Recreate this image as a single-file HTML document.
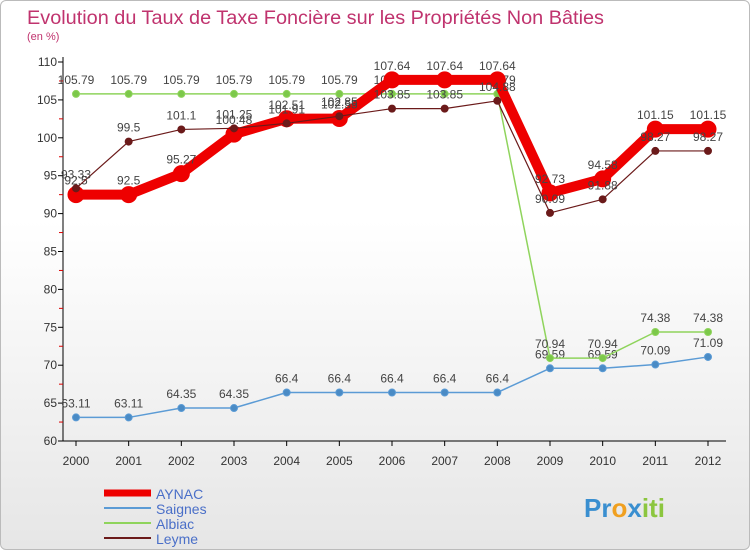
<!DOCTYPE html>
<html><head><meta charset="utf-8"><style>
body{margin:0;width:750px;height:550px;overflow:hidden;font-family:"Liberation Sans",sans-serif}
#wrap{position:absolute;left:0;top:0;width:748px;height:548px;border:1px solid #bbb;border-radius:6px;background:linear-gradient(#fff,#fff 40%,#e6e6e6)}
</style></head><body>
<div id="wrap">
<svg id="chart" width="750" height="550" font-family="Liberation Sans, sans-serif">
<text x="26" y="23" font-size="19" fill="#c0336e" textLength="577" lengthAdjust="spacingAndGlyphs">Evolution du Taux de Taxe Foncière sur les Propriétés Non Bâties</text>
<text x="26" y="39" font-size="11" fill="#c0336e">(en %)</text>
<g id="axes"></g><g id="series"></g>
<g>
<line x1="103" y1="492" x2="150" y2="492" stroke="#e00" stroke-width="7"/>
<text x="155" y="498" font-size="14" fill="#4a6fc8">AYNAC</text>
<line x1="103" y1="507" x2="150" y2="507" stroke="#5b9bd5" stroke-width="2"/>
<text x="155" y="513" font-size="14" fill="#4a6fc8">Saignes</text>
<line x1="103" y1="522" x2="150" y2="522" stroke="#8fd45c" stroke-width="2"/>
<text x="155" y="528" font-size="14" fill="#4a6fc8">Albiac</text>
<line x1="103" y1="537" x2="150" y2="537" stroke="#6b1a1a" stroke-width="2"/>
<text x="155" y="543" font-size="14" fill="#4a6fc8">Leyme</text>
</g>
<text x="583" y="516" font-size="26" font-weight="bold"><tspan fill="#3a8fd0">Pr</tspan><tspan fill="#f0a020">o</tspan><tspan fill="#3a8fd0">x</tspan><tspan fill="#8cc63f">iti</tspan></text>
</svg>
</div>
<script>
const years=[2000,2001,2002,2003,2004,2005,2006,2007,2008,2009,2010,2011,2012];
const yTicks=[60,65,70,75,80,85,90,95,100,105,110];
const aynac=[92.5,92.5,95.27,100.48,102.51,102.55,107.64,107.64,107.64,92.73,94.58,101.15,101.15];
const saignes=[63.11,63.11,64.35,64.35,66.4,66.4,66.4,66.4,66.4,69.59,69.59,70.09,71.09];
const albiac=[105.79,105.79,105.79,105.79,105.79,105.79,105.79,105.79,105.79,70.94,70.94,74.38,74.38];
const leyme=[93.33,99.5,101.1,101.25,101.91,102.85,103.85,103.85,104.88,90.09,91.88,98.27,98.27];
const NS="http://www.w3.org/2000/svg";
const x=i=>75+i*(632/12), y=v=>440-(v-60)*(379/50);
const ax=document.getElementById('axes'), se=document.getElementById('series');
function mk(tag,attrs,parent){const e=document.createElementNS(NS,tag);for(const k in attrs)e.setAttribute(k,attrs[k]);parent.appendChild(e);return e;}
let e=mk('line',{x1:62,y1:56,x2:62,y2:440,stroke:'#000'},ax);


e=mk('line',{x1:62,y1:440,x2:725,y2:440,stroke:'#000'},ax);


yTicks.forEach(t=>{
 mk('line',{x1:57,x2:62,y1:y(t),y2:y(t),stroke:'#000'},ax);
 if(t<110) mk('line',{x1:58,x2:62,y1:y(t+2.5),y2:y(t+2.5),stroke:'#d00'},ax);
 const tx=mk('text',{x:56,y:y(t)+4,'text-anchor':'end','font-size':12,fill:'#333'},ax);tx.textContent=t;
 
 
});
years.forEach((yr,i)=>{
 mk('line',{x1:x(i),x2:x(i),y1:440,y2:445,stroke:'#000'},ax);
 const tx=mk('text',{x:x(i),y:464,'text-anchor':'middle','font-size':12,fill:'#333'},ax);tx.textContent=yr;
 
 
});
function draw(name,vals,color,w,r,dotFill){
 const g=mk('g',{},se);
 
 
 const p=mk('polyline',{points:vals.map((v,i)=>x(i)+','+y(v)).join(' '),fill:'none',stroke:color,'stroke-width':w,'stroke-linejoin':'round'},g);
 
 
 vals.forEach((v,i)=>{
  const c=mk('circle',{cx:x(i),cy:y(v),r:r,fill:dotFill,stroke:color,'stroke-width':1},g);
  
  
  const t=mk('text',{x:x(i),y:y(v)-10,'text-anchor':'middle','font-size':12,fill:'#444'},g);
  t.textContent=v;
  
  
 });
}
draw('saignes',saignes,'#5b9bd5',1.5,3.5,'#4a8bc5');
draw('albiac',albiac,'#8fd45c',1.5,3.5,'#7cc84a');
draw('aynac',aynac,'#e00',10,8,'#e00');
draw('leyme',leyme,'#6b1a1a',1.2,3.5,'#6b1a1a');
</script>
</body></html>
